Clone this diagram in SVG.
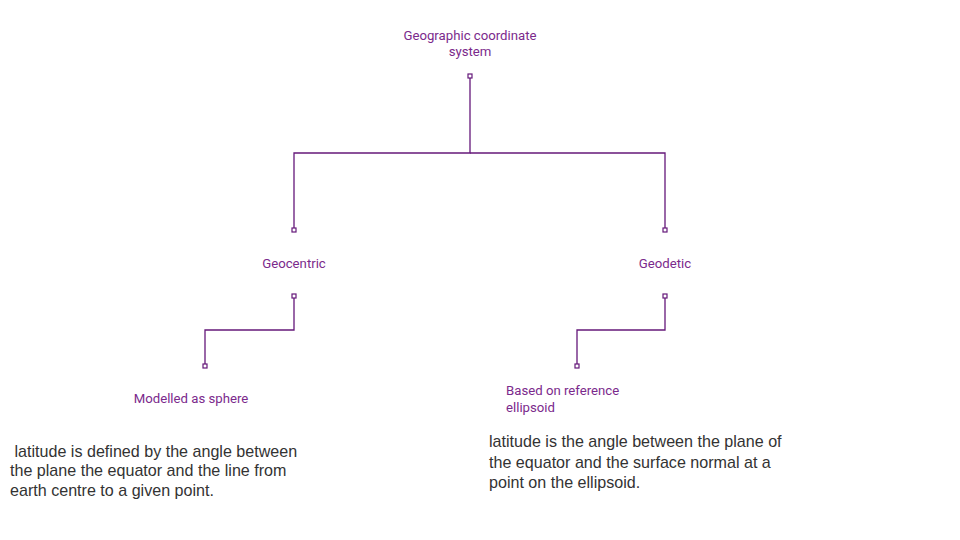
<svg xmlns="http://www.w3.org/2000/svg" width="960" height="540" viewBox="0 0 960 540">
<style>
.lbl{font-family:Roboto,"Noto Sans",sans-serif;font-size:13.2px;fill:#7b2a8c}
.note{font-family:"Liberation Sans",Arial,sans-serif;font-size:16.1px;fill:#333333}
.ln{fill:none;stroke:#65187a;stroke-width:1.3}
.pt{fill:#ffffff;stroke:#65187a;stroke-width:1.2}
</style>
<rect width="960" height="540" fill="#ffffff"/>
<g id="connectors">
<path class="ln" d="M470 78 V153 H294 V228"/>
<path class="ln" d="M470 153 H665 V228"/>
<path class="ln" d="M294 298 V330 H205 V364"/>
<path class="ln" d="M665 298 V330 H577 V364"/>
<rect class="pt" x="468" y="74" width="4" height="4"/>
<rect class="pt" x="292" y="228" width="4" height="4"/>
<rect class="pt" x="663" y="228" width="4" height="4"/>
<rect class="pt" x="292" y="294" width="4" height="4"/>
<rect class="pt" x="663" y="294" width="4" height="4"/>
<rect class="pt" x="203" y="364" width="4" height="4"/>
<rect class="pt" x="575" y="364" width="4" height="4"/>
</g>
<g id="root">
<text class="lbl" text-anchor="middle"><tspan x="470" y="40">Geographic coordinate</tspan><tspan x="470" y="56">system</tspan></text>
</g>
<g id="geocentric">
<text class="lbl" x="294" y="268" text-anchor="middle">Geocentric</text>
</g>
<g id="geodetic">
<text class="lbl" x="665" y="268" text-anchor="middle">Geodetic</text>
</g>
<g id="sphere">
<text class="lbl" x="191" y="403" text-anchor="middle">Modelled as sphere</text>
</g>
<g id="ellipsoid">
<text class="lbl"><tspan x="506" y="395">Based on reference</tspan><tspan x="506" y="412">ellipsoid</tspan></text>
</g>
<g id="note-left">
<text class="note" xml:space="preserve"><tspan x="10" y="457"> latitude is defined by the angle between</tspan><tspan x="10" y="476">the plane the equator and the line from</tspan><tspan x="10" y="496">earth centre to a given point.</tspan></text>
</g>
<g id="note-right">
<text class="note"><tspan x="489" y="447">latitude is the angle between the plane of</tspan><tspan x="489" y="468">the equator and the surface normal at a</tspan><tspan x="489" y="488">point on the ellipsoid.</tspan></text>
</g>
</svg>
